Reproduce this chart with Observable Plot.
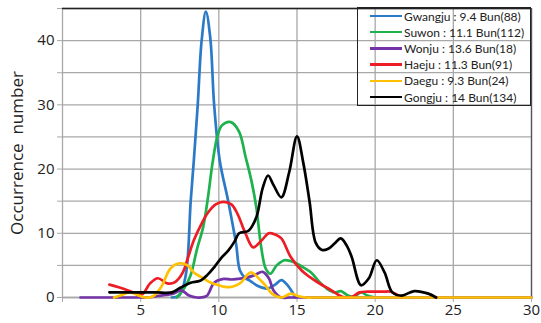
<!DOCTYPE html>
<html><head><meta charset="utf-8">
<script src="https://cdn.jsdelivr.net/npm/d3@7"></script>
<script src="https://cdn.jsdelivr.net/npm/@observablehq/plot@0.6"></script>
<style>
body{margin:0;background:#fff}
#wrap{position:relative;width:541px;height:323px}
#legend{position:absolute;left:357px;top:7px;width:172px;height:97px;border:1.5px solid #222;font-family:Lato,sans-serif;font-size:12px;color:#222}
.row{position:absolute;left:0;height:16px;display:flex;align-items:center}
.sw{display:inline-block;width:32px;height:2.6px;margin-left:12px;margin-right:2px}
</style>
</head><body><div id="wrap"></div>
<script>
const seriesNames = ["Gwangju","Suwon","Wonju","Haeju","Daegu","Gongju"];
const legendLabels = ["Gwangju : 9.4 Bun(88)","Suwon : 11.1 Bun(112)","Wonju : 13.6 Bun(18)","Haeju : 11.3 Bun(91)","Daegu : 9.3 Bun(24)","Gongju : 14 Bun(134)"];
const colors = ["#2a7ac8","#1db24e","#7433a6","#ee1c24","#ffc000","#000000"];

const gwangjuX = [7, 7.5, 7.9, 8.2, 8.4, 8.65, 8.9, 9.17, 9.45, 9.7, 10.06, 10.6, 11.1, 11.35, 11.7, 12, 12.5, 13.1, 13.6, 14, 14.4, 14.9];
const gwangjuY = [0, 0.4, 3.7, 15, 21.3, 30, 40, 44.5, 40.5, 30, 21.3, 15, 8.4, 4.2, 3, 2.6, 1.8, 1.4, 2, 2.7, 1.9, 0];

const suwonX = [7.3, 7.8, 8.2, 8.6, 9.0, 9.3, 9.6, 9.9, 10.2, 10.77, 11.3, 11.7, 12.1, 12.4, 12.7, 13.0, 13.3, 13.7, 14.2, 14.8, 15.4, 15.9, 16.4, 16.9, 17.4, 17.8, 18.2, 18.6, 19.1, 19.5, 20];
const suwonY = [0, 1.5, 3.5, 7.5, 11, 15.5, 21, 25, 26.8, 27.3, 25.8, 22, 18, 14, 8, 4.5, 3.7, 5, 5.8, 5.5, 4.7, 3.9, 2.5, 1.4, 0.8, 1.0, 0.4, 0.1, 0.8, 0.3, 0];

const wonjuX = [1.15, 2, 3, 4, 5, 5.5, 6, 6.6, 7.1, 7.6, 8.1, 8.6, 9.2, 9.7, 10.3, 10.8, 11.2, 11.8, 12.3, 12.8, 13.2, 13.5, 14, 14.5, 15, 20, 25, 30];
const wonjuY = [0, 0, 0, 0, 0, 0, 0.2, 0.4, 0.6, 1.1, 0.3, 0, 0.2, 2.3, 2.9, 2.8, 2.9, 3.1, 3.5, 4, 3, 1.1, 0, 0, 0, 0, 0, 0];

const haejuX = [3, 3.6, 4.2, 4.7, 5.1, 5.6, 6.1, 6.7, 7.2, 7.7, 8.0, 8.4, 8.9, 9.3, 9.8, 10.3, 10.8, 11.2, 11.7, 12.2, 12.7, 13.2, 13.6, 14.0, 14.6, 15.3, 15.8, 16.5, 17.0, 17.4, 17.9, 18.5, 19.0, 19.5, 20.5, 21.0, 21.7];
const haejuY = [2.0, 1.6, 1.1, 0.6, 0.5, 2.2, 3.0, 2.2, 2.4, 3.9, 6, 8.9, 11.5, 13.2, 14.5, 14.9, 14.5, 13, 10, 7.8, 8.8, 10, 9.8, 9.2, 6.3, 4.2, 3.2, 2.1, 1.4, 0.8, 0.1, 0.1, 0.8, 0.9, 0.9, 0.9, 0];

const daeguX = [3.3, 3.8, 4.3, 4.8, 5.3, 5.8, 6.3, 6.9, 7.4, 8.0, 8.4, 9.0, 9.5, 10.0, 10.6, 11.0, 11.4, 12.05, 12.7, 13.0, 13.4, 14.0, 14.6, 15.1, 15.6, 16, 20, 25, 30];
const daeguY = [0, 0.4, 0.8, 0.4, 0, 0.2, 1.6, 4.5, 5.3, 5.0, 3.9, 3.0, 2.3, 1.9, 1.6, 1.8, 2.3, 3.9, 2.6, 1.8, 0.6, 0, 0.6, 0.2, 0, 0, 0, 0, 0];

const gongjuX = [3, 4, 5, 6, 7, 7.6, 8.2, 8.8, 9.3, 9.7, 10.2, 10.6, 11.0, 11.3, 11.9, 12.4, 12.8, 13.15, 13.5, 14.0, 14.5, 15.0, 15.4, 15.8, 16.2, 16.6, 17.0, 17.4, 17.8, 18.2, 18.5, 19.1, 19.6, 20.1, 20.6, 21.1, 21.7, 22.5, 23.4, 23.9];
const gongjuY = [0.8, 0.8, 0.8, 0.8, 0.8, 1.6, 2.3, 2.6, 3.6, 4.7, 6.3, 7.3, 8.7, 10, 10.4, 12.5, 17, 19, 17.5, 15.6, 19.5, 25.1, 21, 15, 8.5, 7.4, 7.6, 8.4, 9.2, 8, 6.3, 1.9, 3, 5.8, 3.9, 0.8, 0.3, 1.0, 0.6, 0];

const xTicks = [0, 5, 10, 15, 20, 25, 30];
const yTicks = [0, 5, 10, 15, 20, 25, 30, 35, 40, 45];

const seriesX = [gwangjuX, suwonX, wonjuX, haejuX, daeguX, gongjuX];
const seriesY = [gwangjuY, suwonY, wonjuY, haejuY, daeguY, gongjuY];
const rows = [];
seriesNames.forEach((s, i) => seriesX[i].forEach((x, j) => rows.push({series: s, x, y: seriesY[i][j]})));

const font = "'Open Sans', sans-serif";
const chart = Plot.plot({
  width: 541, height: 323,
  marginLeft: 62, marginRight: 10, marginTop: 8, marginBottom: 26,
  style: {fontFamily: font, background: "#fff", color: "#222"},
  x: {domain: [0, 30]},
  y: {domain: [0, 45]},
  color: {domain: seriesNames, range: colors},
  marks: [
    Plot.gridY(yTicks, {stroke: "#a8a8a8", strokeOpacity: 1, strokeWidth: 1.3}),
    Plot.gridX(xTicks, {stroke: "#a8a8a8", strokeOpacity: 1, strokeWidth: 1.3}),
    Plot.ruleY([45], {stroke: "#222", strokeWidth: 1.5}),
    Plot.ruleX([30], {stroke: "#555", strokeWidth: 1.3}),
    Plot.ruleY([0], {stroke: "#a8a8a8", strokeWidth: 1.6}),
    Plot.axisY({ticks: yTicks, tickFormat: d => d % 10 === 0 ? d : "", tickSize: 5, tickPadding: 3, fontSize: 15, stroke: "#a8a8a8", label: null}),
    Plot.axisY({ticks: [], label: "Occurrence  number", labelAnchor: "center", labelArrow: "none", labelOffset: 52, fontSize: 17}),
    Plot.axisX({ticks: xTicks, tickFormat: d => d === 0 ? "" : d, tickSize: 5, tickPadding: 2, fontSize: 15, stroke: "#a8a8a8", label: null}),
    Plot.line(rows, {x: "x", y: "y", z: "series", stroke: "series", strokeWidth: 2.7, curve: "catmull-rom"})
  ]
});
const wrap = document.getElementById("wrap");
wrap.appendChild(chart);

const legend = document.createElement("div");
legend.id = "legend";
legendLabels.forEach((lab, i) => {
  const r = document.createElement("div");
  r.className = "row";
  r.style.top = (i * 16.2 + 0) + "px";
  const sw = document.createElement("span");
  sw.className = "sw";
  sw.style.background = colors[i];
  const t = document.createElement("span");
  t.textContent = lab;
  r.appendChild(sw); r.appendChild(t);
  legend.appendChild(r);
});
wrap.appendChild(legend);
</script>
</body></html>
